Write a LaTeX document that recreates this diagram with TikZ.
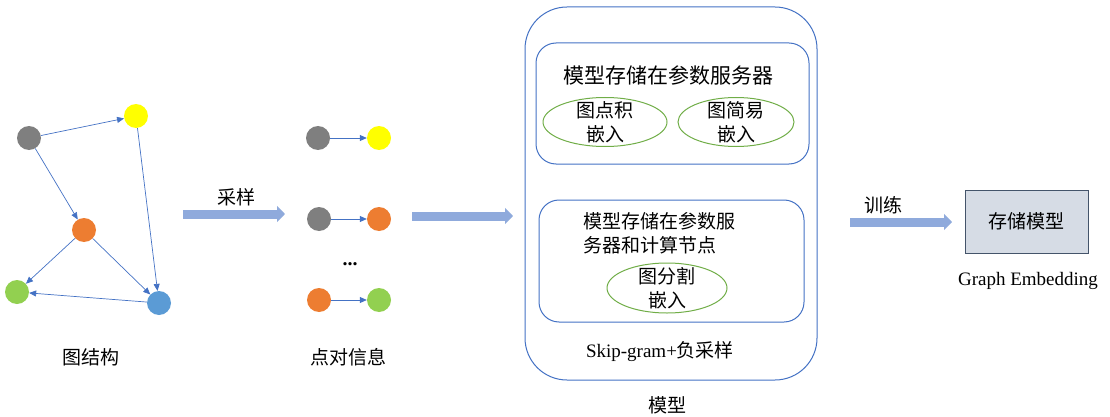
\documentclass[tikz,border=0pt]{standalone}
\usepackage{fontspec}
\setmainfont{Liberation Serif}
\newfontfamily\cjk{Noto Sans CJK SC}
\usetikzlibrary{arrows.meta,shapes.geometric,positioning}

\definecolor{edgeblue}{HTML}{4472C4}
\definecolor{flowblue}{HTML}{8FAADC}
\definecolor{embedgreen}{HTML}{70AD47}
\definecolor{ngray}{HTML}{7F7F7F}
\definecolor{nyellow}{HTML}{FFFF00}
\definecolor{norange}{HTML}{ED7D31}
\definecolor{ngreen}{HTML}{92D050}
\definecolor{nblue}{HTML}{5B9BD5}
\definecolor{storefill}{HTML}{D6DCE5}
\definecolor{storedraw}{HTML}{44546A}

\begin{document}
\begin{tikzpicture}[
    x=1pt, y=-1pt,
    vertex/.style={circle, minimum size=24pt, inner sep=0pt},
    edge/.style={draw=edgeblue, line width=0.7pt, -{Triangle[width=6pt,length=7pt]}},
    flow/.style={draw=flowblue, line width=9pt, -{Triangle[width=16pt,length=8pt]}},
    caption/.style={font=\fontsize{19}{24}\selectfont\cjk},
    roundbox/.style={draw=edgeblue, line width=1pt, rounded corners=20pt, inner sep=0pt},
    embed/.style={ellipse, draw=embedgreen, line width=1pt, inner sep=0pt},
    embedtext/.style={align=center, font=\fontsize{19}{24}\selectfont\cjk},
    store/.style={rectangle, draw=storedraw, fill=storefill, line width=1pt, minimum width=123pt, minimum height=63pt}
]
\useasboundingbox (0,0) rectangle (1110,417);

% Graph structure
\node[vertex, fill=ngray] (g1) at (29,138) {};
\node[vertex, fill=nyellow] (y1) at (136,116) {};
\node[vertex, fill=norange] (o1) at (84,230) {};
\node[vertex, fill=ngreen] (e1) at (17,292) {};
\node[vertex, fill=nblue] (b1) at (159,303) {};
\draw[edge] (g1) -- (y1);
\draw[edge] (g1) -- (o1);
\draw[edge] (y1) -- (b1);
\draw[edge] (o1) -- (e1);
\draw[edge] (o1) -- (b1);
\draw[edge] (b1) -- (e1);
\node[caption] (graphlbl) at (91,357) {图结构};

% Sampling arrow
\coordinate (sa) at (183,214);
\coordinate (sb) at (285,214);
\draw[flow] (sa) -- (sb);
\node[caption] (samplelbl) at (236,197) {采样};

% Node pairs
\node[vertex, fill=ngray] (p1a) at (318,138) {};
\node[vertex, fill=nyellow] (p1b) at (379,138) {};
\node[vertex, fill=ngray] (p2a) at (319,219) {};
\node[vertex, fill=norange] (p2b) at (379,219) {};
\node[vertex, fill=norange] (p3a) at (319,300) {};
\node[vertex, fill=ngreen] (p3b) at (379,300) {};
\draw[edge] (p1a) -- (p1b);
\draw[edge] (p2a) -- (p2b);
\draw[edge] (p3a) -- (p3b);
\node[font=\fontsize{20}{24}\selectfont\bfseries] (dots) at (350,264) {...};
\node[caption] (pairlbl) at (348,357) {点对信息};

% Into the model
\coordinate (ma) at (412,216);
\coordinate (mb) at (513,216);
\draw[flow] (ma) -- (mb);

% Model
\node[draw=edgeblue, line width=1pt, rounded corners=42pt, minimum width=292pt, minimum height=373pt] (model) at (671,193.5) {};
\node[roundbox, minimum width=273pt, minimum height=121pt] (ps) at (672.5,103.5) {};
\node[font=\fontsize{21}{24}\selectfont\cjk] (pstext) at (668,75) {模型存储在参数服务器};
\node[embed, minimum width=124pt, minimum height=49pt] (dotemb) at (605,122) {};
\node[embedtext] at (dotemb) {图点积\\嵌入};
\node[embed, minimum width=116pt, minimum height=49pt] (simemb) at (736,122) {};
\node[embedtext] at (simemb) {图简易\\嵌入};

\node[roundbox, minimum width=265pt, minimum height=122pt] (pc) at (671.5,261) {};
\node[caption, align=left, anchor=west] (pctext) at (580,233) {模型存储在参数服\\务器和计算节点};
\node[embed, minimum width=120pt, minimum height=50pt] (partemb) at (667,288) {};
\node[embedtext] at (partemb) {图分割\\嵌入};

\node[font=\fontsize{19}{24}\selectfont] (skip) at (660,352) {Skip-gram+{\cjk 负采样}};
\node[caption] (modellbl) at (667,405) {模型};

% Training
\coordinate (ta) at (850,222);
\coordinate (tb) at (952,222);
\draw[flow] (ta) -- (tb);
\node[caption] (trainlbl) at (883,205) {训练};
\node[store, font=\fontsize{19}{24}\selectfont\cjk] (stored) at (1026.5,221.5) {存储模型};
\node[font=\fontsize{19}{24}\selectfont] (gelbl) at (1028,281) {Graph Embedding};

\end{tikzpicture}
\end{document}
